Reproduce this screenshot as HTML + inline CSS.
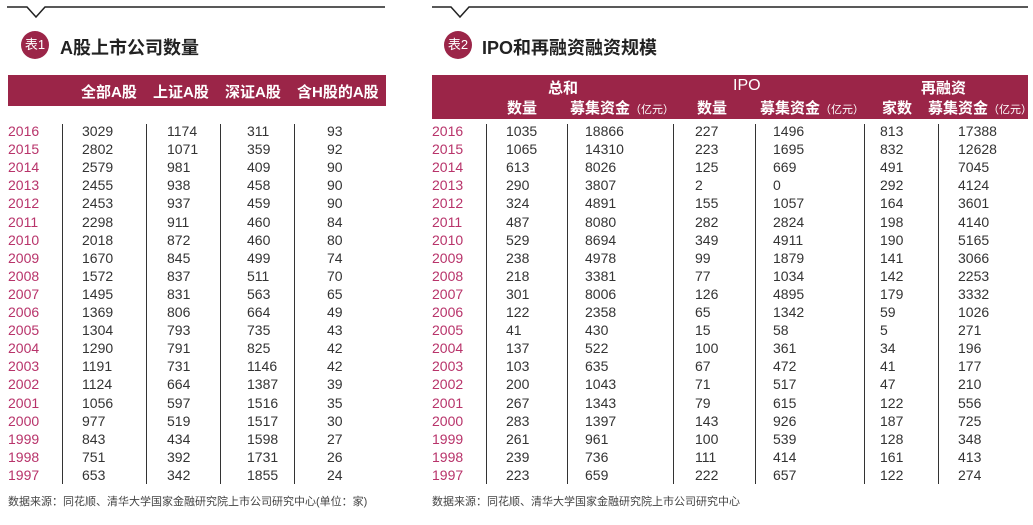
<!DOCTYPE html>
<html><head><meta charset="utf-8">
<style>
body{margin:0;width:1033px;height:525px;background:#fff;position:relative;overflow:hidden;font-family:"Liberation Sans","Noto Sans CJK SC",sans-serif;}
.a{position:absolute;white-space:nowrap;}
.bar{position:absolute;background:#9b2548;}
.h{color:#fff;font-weight:bold;font-size:15px;}
.yr{color:#b8336a;font-size:14px;line-height:16px;}
.v{color:#333;font-size:14px;line-height:16px;}
.sep{position:absolute;width:1px;background:#333;}
.badge{position:absolute;width:28px;height:28px;border-radius:50%;background:#9b2548;color:#fff;font-size:13px;line-height:28px;text-align:center;}
.title{font-size:18px;font-weight:bold;color:#222;}
.foot{font-size:11px;color:#444;}
.u{font-weight:normal;font-size:11px;}
</style></head><body>
<svg class="a" style="left:0;top:0" width="1033" height="30">
<polyline points="7,7 27,7 36,17 45,7 385,7" fill="none" stroke="#222" stroke-width="1.5"/>
<polyline points="432,7 451,7 460,17 469,7 1028,7" fill="none" stroke="#222" stroke-width="1.5"/>
</svg>
<div class="badge" style="left:21px;top:31px">表1</div>
<div class="a title" style="left:60px;top:34px">A股上市公司数量</div>
<div class="badge" style="left:444px;top:31px">表2</div>
<div class="a title" style="left:482px;top:34px">IPO和再融资融资规模</div>

<div class="bar" style="left:8px;top:75px;width:378px;height:31px"></div>
<div class="a h" style="left:81px;top:81px">全部A股</div>
<div class="a h" style="left:153px;top:81px">上证A股</div>
<div class="a h" style="left:225px;top:81px">深证A股</div>
<div class="a h" style="left:297px;top:81px">含H股的A股</div>

<div class="bar" style="left:432px;top:75px;width:596px;height:44px"></div>
<div class="a h" style="left:548px;top:77px">总和</div>
<div class="a h" style="left:733px;top:77px;font-weight:normal;font-size:16px">IPO</div>
<div class="a h" style="left:921px;top:77px">再融资</div>
<div class="a h" style="left:507px;top:97px">数量</div>
<div class="a h" style="left:570px;top:97px">募集资金<span class="u">（亿元）</span></div>
<div class="a h" style="left:697px;top:97px">数量</div>
<div class="a h" style="left:760px;top:97px">募集资金<span class="u">（亿元）</span></div>
<div class="a h" style="left:882px;top:97px">家数</div>
<div class="a h" style="left:928px;top:97px">募集资金<span class="u">（亿元）</span></div>

<div class="a foot" style="left:8px;top:493px">数据来源：同花顺、清华大学国家金融研究院上市公司研究中心(单位：家)</div>
<div class="a foot" style="left:432px;top:493px">数据来源：同花顺、清华大学国家金融研究院上市公司研究中心</div>

<script>
const years=[2016,2015,2014,2013,2012,2011,2010,2009,2008,2007,2006,2005,2004,2003,2002,2001,2000,1999,1998,1997];
const allA=[3029,2802,2579,2455,2453,2298,2018,1670,1572,1495,1369,1304,1290,1191,1124,1056,977,843,751,653];
const shA=[1174,1071,981,938,937,911,872,845,837,831,806,793,791,731,664,597,519,434,392,342];
const szA=[311,359,409,458,459,460,460,499,511,563,664,735,825,1146,1387,1516,1517,1598,1731,1855];
const hA=[93,92,90,90,90,84,80,74,70,65,49,43,42,42,39,35,30,27,26,24];
const totCnt=[1035,1065,613,290,324,487,529,238,218,301,122,41,137,103,200,267,283,261,239,223];
const totAmt=[18866,14310,8026,3807,4891,8080,8694,4978,3381,8006,2358,430,522,635,1043,1343,1397,961,736,659];
const ipoCnt=[227,223,125,2,155,282,349,99,77,126,65,15,100,67,71,79,143,100,111,222];
const ipoAmt=[1496,1695,669,0,1057,2824,4911,1879,1034,4895,1342,58,361,472,517,615,926,539,414,657];
const refCnt=[813,832,491,292,164,198,190,141,142,179,59,5,34,41,47,122,187,128,161,122];
const refAmt=[17388,12628,7045,4124,3601,4140,5165,3066,2253,3332,1026,271,196,177,210,556,725,348,413,274];
const y0=123, step=18.1;
function txt(x,y,t,cls,name){
  const d=document.createElement('div');
  d.className='a '+cls;d.style.left=x+'px';d.style.top=y+'px';d.textContent=t;
  
  
  document.body.appendChild(d);
}
function sep(x,name){
  const d=document.createElement('div');d.className='sep';
  d.style.left=x+'px';d.style.top=(y0+1)+'px';d.style.height=(step*years.length-2)+'px';
  
  
  document.body.appendChild(d);
}
[62,146,220,294].forEach(x=>sep(x,'table1-separator'));
[486,567,673,755,864,938].forEach(x=>sep(x,'table2-separator'));
years.forEach((yr,i)=>{
  const y=y0+i*step;
  txt(8,y,yr,'yr','table1-year');
  txt(82,y,allA[i],'v','table1-all-a');
  txt(167,y,shA[i],'v','table1-sh-a');
  txt(247,y,szA[i],'v','table1-sz-a');
  txt(327,y,hA[i],'v','table1-h-a');
  txt(432,y,yr,'yr','table2-year');
  txt(506,y,totCnt[i],'v','table2-total-count');
  txt(585,y,totAmt[i],'v','table2-total-amount');
  txt(695,y,ipoCnt[i],'v','table2-ipo-count');
  txt(773,y,ipoAmt[i],'v','table2-ipo-amount');
  txt(880,y,refCnt[i],'v','table2-refi-count');
  txt(958,y,refAmt[i],'v','table2-refi-amount');
});
</script>
</body></html>
